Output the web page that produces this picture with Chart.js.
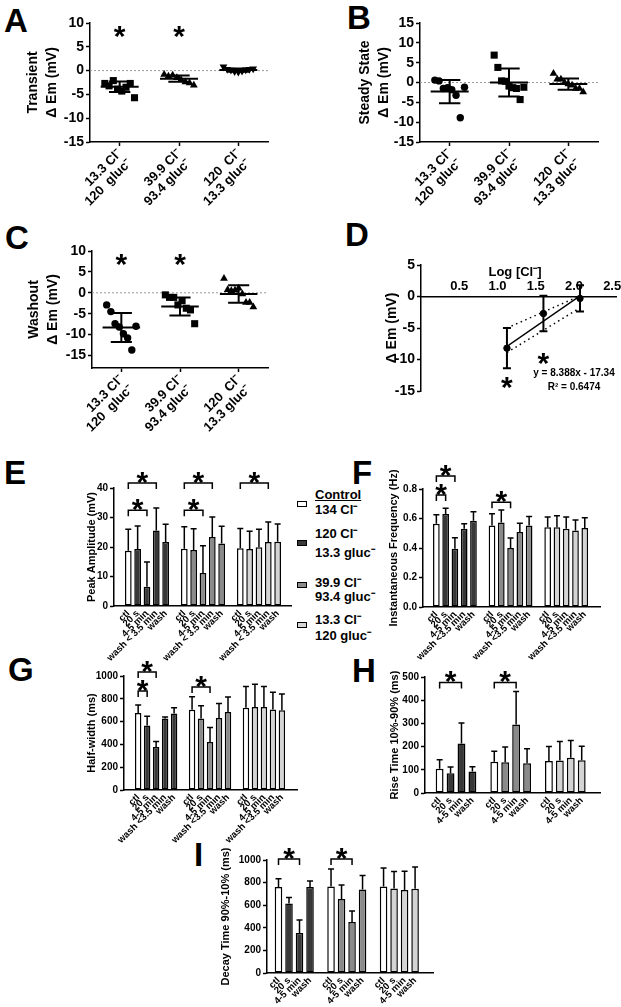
<!DOCTYPE html>
<html>
<head>
<meta charset="utf-8">
<script src="https://cdn.jsdelivr.net/npm/chart.js@4.4.0/dist/chart.umd.min.js"></script>
<style>
  body { margin: 0; background: #fff; }
  #fig { position: relative; width: 621px; height: 1007px; overflow: hidden; background: #fff;
         font-family: "Liberation Sans", Arial, sans-serif; font-weight: bold; color: #000; }
  #fig canvas { z-index: 3; }
  .letter { position: absolute; font-size: 33px; line-height: 1; z-index: 2; }
  .leg { position: absolute; left: 315px; font-size: 13px; line-height: 16px; z-index: 2; white-space: nowrap; }
  .sw { position: absolute; left: 297px; width: 8px; height: 4px; border: 1.5px solid #000; z-index: 2; }
</style>
</head>
<body>
<div id="fig">
  <div class="letter" style="left:4px;top:4px">A</div>
  <div class="letter" style="left:347px;top:1px">B</div>
  <div class="letter" style="left:5px;top:221px">C</div>
  <div class="letter" style="left:345px;top:218px">D</div>
  <div class="letter" style="left:4px;top:456px">E</div>
  <div class="letter" style="left:352px;top:456px">F</div>
  <div class="letter" style="left:8px;top:653px">G</div>
  <div class="letter" style="left:352px;top:654px">H</div>
  <div class="letter" style="left:194px;top:838px">I</div>

  <div class="leg" style="top:487px;text-decoration:underline">Control</div>
  <div class="leg" style="top:502px">134  Cl⁻</div>
  <div class="sw" style="top:501px;background:#fff"></div>
  <div class="leg" style="top:526px">120  Cl⁻</div>
  <div class="leg" style="top:545px">13.3 gluc⁻</div>
  <div class="sw" style="top:540px;background:#383838"></div>
  <div class="leg" style="top:575px">39.9 Cl⁻</div>
  <div class="leg" style="top:589px">93.4 gluc⁻</div>
  <div class="sw" style="top:582px;background:#8a8a8a"></div>
  <div class="leg" style="top:612px">13.3 Cl⁻</div>
  <div class="leg" style="top:628px">120  gluc⁻</div>
  <div class="sw" style="top:622px;background:#d4d4d4"></div>
</div>

<script>
// ---------- data ----------
const condLabels = [['13.3 Cl⁻', '120  gluc⁻'], ['39.9 Cl⁻', '93.4 gluc⁻'], ['120  Cl⁻', '13.3 gluc⁻']];

// A: transient change
const transientPts = [
  [-2.7, -3.2, -2.1, -3.9, -4.3, -3.5, -2.7, -5.7],
  [-0.8, -1.2, -1.0, -1.5, -1.9, -2.4, -2.6, -3.1],
  [0.8, 0.3, 0.1, -0.2, -0.3, -0.1, 0.2, 0.3, 0.4]
];
const transientMean = [-3.4, -1.7, 0.1];
const transientSD = [1.1, 0.65, 0.35];
const transientSig = [true, true, false];

// B: steady state
const steadyPts = [
  [0.6, 0.4, -1.5, -1.3, -1.8, -3.2, -8.9, -1.2],
  [6.9, 3.8, 0.4, 0.3, -0.9, -1.3, -1.5, -4.3, -1.2],
  [2.3, 0.8, 0.8, 0.0, -0.4, -0.7, -1.5, -1.5, -2.4]
];
const steadyMean = [-2.3, 0.0, -0.4];
const steadySD = [2.9, 3.5, 1.4];
const steadySig = [false, false, false];

// C: washout
const washPts = [
  [-2.9, -4.5, -7.4, -8.2, -9.8, -10.8, -13.7, -8.0],
  [-0.5, -1.1, -1.1, -2.9, -1.9, -3.7, -4.1, -7.4],
  [3.4, 0.7, 0.5, 0.6, 1.1, -0.3, -2.3, -2.3, -3.4]
];
const washMean = [-8.3, -3.3, -0.3];
const washSD = [3.45, 2.15, 2.1];
const washSig = [true, true, false];

// D: washout vs log [Cl-]
const clConc = [13.3, 39.9, 120];
const dMean = [-8.2, -2.7, -0.3];
const dSD = [3.2, 2.8, 2.1];
const fitSlope = 8.388;
const fitIntercept = -17.34;
const fitR2 = 0.6474;
const bandUpper = [-5.0, 0.1];
const bandLower = [-8.9, -1.8];
const dStarY = [-13.1, -9.4];

// E-I: bars, 3 groups (120 Cl-, 39.9 Cl-, 13.3 Cl-)
const timeLabelsE = ['ctl', '20 s', '4-5 min', 'wash < 3.5 min', 'wash'];
const timeLabels5 = ['ctl', '20 s', '4-5 min', 'wash <3.5 min', 'wash'];
const timeLabels4 = ['ctl', '20 s', '4-5 min', 'wash'];

const ampMean = [[18.7, 19.3, 6.5, 25.6, 21.7], [19.4, 19.0, 11.2, 23.4, 21.2], [19.6, 19.3, 19.9, 21.7, 21.8]];
const ampSD = [[7.3, 7.8, 8.4, 7.6, 6.0], [7.5, 7.2, 9.2, 6.8, 5.8], [6.7, 6.0, 6.1, 6.8, 6.0]];
const ampSig = [{ g: 0, from: 0, to: 3, y: 41.7 }, { g: 0, from: 0, to: 2, y: 32.5 },
                { g: 1, from: 0, to: 3, y: 41.7 }, { g: 1, from: 0, to: 2, y: 32.5 },
                { g: 2, from: 0, to: 3, y: 41.7 }];

const freqMean = [[0.565, 0.63, 0.395, 0.53, 0.585], [0.553, 0.573, 0.40, 0.508, 0.553], [0.54, 0.54, 0.53, 0.518, 0.535]];
const freqSD = [[0.06, 0.04, 0.075, 0.035, 0.06], [0.08, 0.085, 0.068, 0.06, 0.06], [0.07, 0.078, 0.08, 0.072, 0.07]];
const freqSig = [{ g: 0, from: 0, to: 2, y: 0.888 }, { g: 0, from: 0, to: 1, y: 0.76 }, { g: 1, from: 0, to: 2, y: 0.71 }];

const hwMean = [[675, 565, 378, 628, 670], [705, 627, 420, 632, 685], [722, 727, 727, 707, 700]];
const hwSD = [[70, 83, 47, 12, 52], [113, 113, 128, 126, 130], [185, 201, 180, 151, 143]];
const hwSig = [{ g: 0, from: 0, to: 2, y: 1035 }, { g: 0, from: 0, to: 1, y: 868 }, { g: 1, from: 0, to: 2, y: 903 }];

const riseMean = [[105, 85, 213, 93], [135, 133, 295, 128], [138, 140, 152, 141]];
const riseSD = [[38, 27, 89, 20], [45, 65, 142, 63], [62, 82, 74, 61]];
const riseSig = [{ g: 0, from: 0, to: 2, y: 476 }, { g: 1, from: 0, to: 2, y: 476 }];

const decayMean = [[760, 615, 355, 760], [765, 655, 452, 740], [765, 748, 735, 745]];
const decaySD = [[75, 53, 115, 55], [155, 123, 96, 122], [165, 150, 165, 193]];
const decaySig = [{ g: 0, from: 0, to: 2, y: 1008 }, { g: 1, from: 0, to: 2, y: 1008 }];

// ---------- styles ----------
const FONT = "'Liberation Sans', Arial, sans-serif";
const groupFill = ['#383838', '#8a8a8a', '#d4d4d4'];

function makeCanvas(cv) {
  const c = document.createElement('canvas');
  c.width = cv.w; c.height = cv.h;
  c.style.cssText = 'position:absolute;left:' + cv.x + 'px;top:' + cv.y + 'px;width:' + cv.w + 'px;height:' + cv.h + 'px';
  document.getElementById('fig').appendChild(c);
  return c.getContext('2d');
}

// chart area wanted on the page -> padding and axis sizes for the canvas
function frame(area, cv) {
  return {
    pad: { left: 0, top: area.t - cv.y, right: cv.x + cv.w - area.r, bottom: cv.y + cv.h - area.b },
    yW: area.l - cv.x,
    xH: cv.y + cv.h - area.b
  };
}

function star(ctx, cx, cy, fs) {
  fs = fs || 30;
  ctx.save();
  ctx.fillStyle = '#000';
  ctx.font = 'bold ' + fs + 'px ' + FONT;
  ctx.textAlign = 'center';
  ctx.textBaseline = 'alphabetic';
  ctx.fillText('*', cx, cy + 0.59 * fs);
  ctx.restore();
}

function yAxis(f, min, max, step, title, tickSize, titleSize, fmt) {
  const vals = [];
  for (let k = Math.ceil(min / step - 1e-9); k * step <= max + 1e-9; k++) vals.push(k * step);
  return {
    min: min, max: max,
    ticks: { z: 1, color: '#000', padding: 2, autoSkip: false, font: { family: FONT, weight: 'bold', size: tickSize },
             callback: fmt || (v => Math.round(v)) },
    grid: { drawOnChartArea: false, drawTicks: true, tickLength: 4, tickColor: '#000', tickWidth: 1.5, color: '#000' },
    border: { display: true, color: '#000', width: 1.5 },
    title: { display: true, text: title, color: '#000', padding: 0,
             font: { family: FONT, weight: 'bold', size: titleSize, lineHeight: 1.4 } },
    afterBuildTicks: s => { s.ticks = vals.map(v => ({ value: v })); },
    afterFit: s => { s.width = f.yW; }
  };
}

// ---------- scatter panels A, B, C ----------
function spread(n, j) { return (j - (n - 1) / 2) * (0.5 / (n - 1)); }

function dotChart(area, cv, pts, mean, sd, sig, shapes, yMin, yMax, title) {
  const f = frame(area, cv);
  const datasets = pts.map((grp, g) => ({
    type: 'scatter',
    data: grp.map((v, j) => ({ x: g + spread(grp.length, j), y: v })),
    pointStyle: shapes[g][0], pointRadius: shapes[g][1], pointRotation: shapes[g][2] || 0,
    pointBackgroundColor: '#000', pointBorderColor: '#000', pointBorderWidth: 0
  }));
  const extras = {
    id: 'dotExtras',
    beforeDatasetsDraw(chart) {
      const a = chart.chartArea, py = chart.scales.y.getPixelForValue(0), ctx = chart.ctx;
      ctx.save(); ctx.strokeStyle = '#9a9a9a'; ctx.lineWidth = 1; ctx.setLineDash([2, 2]);
      ctx.beginPath(); ctx.moveTo(a.left, py); ctx.lineTo(a.right, py); ctx.stroke(); ctx.restore();
    },
    afterDatasetsDraw(chart) {
      const ctx = chart.ctx, x = chart.scales.x, y = chart.scales.y, a = chart.chartArea;
      ctx.save(); ctx.strokeStyle = '#000'; ctx.lineWidth = 2;
      mean.forEach((m, g) => {
        const cx = x.getPixelForValue(g);
        const half = x.getPixelForValue(g + 0.32) - cx;
        const cap = x.getPixelForValue(g + 0.18) - cx;
        const pm = y.getPixelForValue(m), pt = y.getPixelForValue(m + sd[g]), pb = y.getPixelForValue(m - sd[g]);
        ctx.beginPath();
        ctx.moveTo(cx - half, pm); ctx.lineTo(cx + half, pm);
        ctx.moveTo(cx, pt); ctx.lineTo(cx, pb);
        ctx.moveTo(cx - cap, pt); ctx.lineTo(cx + cap, pt);
        ctx.moveTo(cx - cap, pb); ctx.lineTo(cx + cap, pb);
        ctx.stroke();
        if (sig[g]) star(ctx, cx, a.top + 5);
      });
      ctx.restore();
    }
  };
  return new Chart(makeCanvas(cv), {
    type: 'scatter',
    data: { datasets: datasets },
    options: {
      responsive: false, animation: false, events: [],
      layout: { padding: { left: 0, top: f.pad.top, right: f.pad.right, bottom: 0 } },
      plugins: { legend: { display: false }, tooltip: { enabled: false } },
      scales: {
        x: {
          type: 'linear', min: -0.5, max: 2.5,
          afterBuildTicks: s => { s.ticks = condLabels.map((c, i) => ({ value: i })); },
          ticks: { autoSkip: false, minRotation: 45, maxRotation: 45, padding: 1, color: '#000',
                   font: { family: FONT, weight: 'bold', size: 13, lineHeight: 1.05 },
                   callback: v => condLabels[v] },
          grid: { drawOnChartArea: false, drawTicks: true, tickLength: 4, tickColor: '#000', tickWidth: 1.5 },
          border: { display: true, color: '#000', width: 1.5 },
          afterFit: s => { s.height = f.xH; }
        },
        y: yAxis(f, yMin, yMax, 5, title, 14, 14)
      }
    },
    plugins: [extras]
  });
}

dotChart({ l: 90, t: 23, r: 268, b: 142 }, { x: 23, y: 8, w: 262, h: 210 },
  transientPts, transientMean, transientSD, transientSig,
  [['rect', 5], ['triangle', 4.5], ['triangle', 4.5, 180]], -15, 10, ['Transient', 'Δ Em (mV)']);

dotChart({ l: 420, t: 23, r: 598, b: 142 }, { x: 355, y: 8, w: 262, h: 210 },
  steadyPts, steadyMean, steadySD, steadySig,
  [['circle', 3.7], ['rect', 5], ['triangle', 4.5]], -15, 15, ['Steady State', 'Δ Em (mV)']);

dotChart({ l: 92, t: 251, r: 268, b: 368 }, { x: 24, y: 236, w: 262, h: 200 },
  washPts, washMean, washSD, washSig,
  [['circle', 3.7], ['rect', 5], ['triangle', 4.5]], -18, 10, ['Washout', 'Δ Em (mV)']);

// ---------- D: regression on log [Cl-] ----------
(function () {
  const area = { l: 421, t: 265, r: 616, b: 391 }, cv = { x: 382, y: 250, w: 248, h: 155 };
  const f = frame(area, cv);
  const lx = clConc.map(c => Math.log10(c));
  const x0 = lx[0], x1 = lx[lx.length - 1];
  const extras = {
    id: 'dExtras',
    afterDatasetsDraw(chart) {
      const ctx = chart.ctx, x = chart.scales.x, y = chart.scales.y, a = chart.chartArea;
      ctx.save(); ctx.strokeStyle = '#000'; ctx.lineWidth = 2;
      dMean.forEach((m, i) => {
        const px = x.getPixelForValue(lx[i]);
        const pt = y.getPixelForValue(m + dSD[i]), pb = y.getPixelForValue(m - dSD[i]);
        ctx.beginPath();
        ctx.moveTo(px, pt); ctx.lineTo(px, pb);
        ctx.moveTo(px - 4, pt); ctx.lineTo(px + 4, pt);
        ctx.moveTo(px - 4, pb); ctx.lineTo(px + 4, pb);
        ctx.stroke();
      });
      dStarY.forEach((v, i) => star(ctx, x.getPixelForValue(lx[i]), y.getPixelForValue(v)));
      // axis title above the tick labels, and the fit equation
      ctx.fillStyle = '#000';
      ctx.textAlign = 'center';
      ctx.textBaseline = 'middle';
      ctx.font = 'bold 13px ' + FONT;
      ctx.fillText('Log [Cl⁻]', a.left + 94, y.getPixelForValue(0) - 24);
      ctx.font = 'bold 10px ' + FONT;
      ctx.fillText('y = ' + fitSlope.toFixed(3) + 'x - ' + Math.abs(fitIntercept).toFixed(2), a.left + 153, a.top + 108);
      ctx.fillText('R² = ' + fitR2.toFixed(4), a.left + 153, a.top + 122);
      ctx.restore();
    }
  };
  new Chart(makeCanvas(cv), {
    type: 'scatter',
    data: {
      datasets: [
        { data: lx.map((v, i) => ({ x: v, y: dMean[i] })), pointRadius: 3.2,
          pointBackgroundColor: '#000', pointBorderColor: '#000' },
        { type: 'line', data: [{ x: x0, y: fitSlope * x0 + fitIntercept }, { x: x1, y: fitSlope * x1 + fitIntercept }],
          borderColor: '#000', borderWidth: 1.3, pointRadius: 0, fill: false },
        { type: 'line', data: [{ x: x0, y: bandUpper[0] }, { x: x1, y: bandUpper[1] }],
          borderColor: '#000', borderWidth: 1.5, borderDash: [1.5, 3.5], pointRadius: 0, fill: false },
        { type: 'line', data: [{ x: x0, y: bandLower[0] }, { x: x1, y: bandLower[1] }],
          borderColor: '#000', borderWidth: 1.5, borderDash: [1.5, 3.5], pointRadius: 0, fill: false }
      ]
    },
    options: {
      responsive: false, animation: false, events: [],
      layout: { padding: f.pad },
      plugins: { legend: { display: false }, tooltip: { enabled: false } },
      scales: {
        x: {
          type: 'linear', min: 0, max: 2.55, position: { y: 0 },
          afterBuildTicks: s => { s.ticks = [0.5, 1, 1.5, 2, 2.5].map(v => ({ value: v })); },
          ticks: { autoSkip: false, maxRotation: 0, padding: -18, color: '#000',
                   font: { family: FONT, weight: 'bold', size: 13 }, callback: v => v.toFixed(1) },
          grid: { drawOnChartArea: false, drawTicks: false },
          border: { display: true, color: '#000', width: 1.5 },
          afterFit: s => { s.height = 0; }
        },
        y: yAxis(f, -15, 5, 5, 'Δ Em (mV)', 14, 14)
      }
    },
    plugins: [extras]
  });
})();

// ---------- bar panels E-I ----------
function barChart(area, cv, means, sds, sig, labels, yMax, yStep, title, fmt) {
  const f = frame(area, cv);
  const per = means[0].length, slotW = per + 1;
  const pts = [], fills = [], errs = [], slots = [], labelMap = {};
  means.forEach((grp, g) => grp.forEach((v, j) => {
    const s = g * slotW + j;
    pts.push({ x: s, y: v });
    fills.push(j === 0 ? '#ffffff' : groupFill[g]);
    errs.push({ x: s, y: v, sd: sds[g][j] });
    slots.push(s);
    labelMap[s] = labels[j];
  }));
  const lastSlot = slots[slots.length - 1];
  const extras = {
    id: 'barExtras',
    afterDatasetsDraw(chart) {
      const ctx = chart.ctx, x = chart.scales.x, y = chart.scales.y;
      ctx.save(); ctx.strokeStyle = '#000'; ctx.lineWidth = 1.5;
      errs.forEach(e => {
        const px = x.getPixelForValue(e.x), p0 = y.getPixelForValue(e.y), p1 = y.getPixelForValue(e.y + e.sd);
        ctx.beginPath();
        ctx.moveTo(px, p0); ctx.lineTo(px, p1);
        ctx.moveTo(px - 3, p1); ctx.lineTo(px + 3, p1);
        ctx.stroke();
      });
      sig.forEach(s => {
        const xa = x.getPixelForValue(s.g * slotW + s.from), xb = x.getPixelForValue(s.g * slotW + s.to);
        const py = y.getPixelForValue(s.y);
        ctx.beginPath();
        ctx.moveTo(xa, py + 6); ctx.lineTo(xa, py); ctx.lineTo(xb, py); ctx.lineTo(xb, py + 6);
        ctx.stroke();
        star(ctx, (xa + xb) / 2, py - 9);
      });
      ctx.restore();
    }
  };
  // x range: first and last bar centres pinned to the page positions cv.first / cv.last
  const pxPerSlot = (cv.last - cv.first) / lastSlot;
  const min = -(cv.first - area.l) / pxPerSlot;
  const max = lastSlot + (area.r - cv.last) / pxPerSlot;
  return new Chart(makeCanvas(cv), {
    type: 'bar',
    data: { datasets: [{ data: pts, backgroundColor: fills, borderColor: '#000', borderWidth: 1.5,
                         borderSkipped: false, barPercentage: 0.72, categoryPercentage: 1 }] },
    options: {
      responsive: false, animation: false, events: [],
      layout: { padding: { left: 0, top: f.pad.top, right: f.pad.right, bottom: 0 } },
      plugins: { legend: { display: false }, tooltip: { enabled: false } },
      scales: {
        x: {
          type: 'linear', min: min, max: max,
          afterBuildTicks: s => { s.ticks = slots.map(v => ({ value: v })); },
          ticks: { autoSkip: false, minRotation: 45, maxRotation: 45, padding: 2, color: '#000',
                   font: { family: FONT, weight: 'bold', size: 9.5 }, callback: v => labelMap[v] },
          grid: { display: false, drawTicks: false },
          border: { display: true, color: '#000', width: 1.5 },
          afterFit: s => { s.height = f.xH; }
        },
        y: yAxis(f, 0, yMax, yStep, title, 10, 11, fmt)
      }
    },
    plugins: [extras]
  });
}

barChart({ l: 114, t: 488, r: 291, b: 606 }, { x: 84, y: 455, w: 215, h: 225, first: 123, last: 283 },
  ampMean, ampSD, ampSig, timeLabelsE, 40, 10, 'Peak Amplitude (mV)');

barChart({ l: 423, t: 489, r: 600, b: 607 }, { x: 386, y: 455, w: 225, h: 225, first: 431, last: 590 },
  freqMean, freqSD, freqSig, timeLabels5, 0.8, 0.2, 'Instantaneous Frequency (Hz)', v => v.toFixed(1));

barChart({ l: 124, t: 676, r: 297, b: 790 }, { x: 84, y: 645, w: 222, h: 210, first: 133, last: 287 },
  hwMean, hwSD, hwSig, timeLabels5, 1000, 200, 'Half-width (ms)');

barChart({ l: 425, t: 677, r: 600, b: 793 }, { x: 387, y: 645, w: 230, h: 200, first: 433, last: 588 },
  riseMean, riseSD, riseSig, timeLabels4, 500, 100, 'Rise Time 10%-90% (ms)');

barChart({ l: 267, t: 860, r: 433, b: 973 }, { x: 218, y: 828, w: 225, h: 179, first: 272, last: 421 },
  decayMean, decaySD, decaySig, timeLabels4, 1000, 200, 'Decay Time 90%-10% (ms)');
</script>
</body>
</html>
